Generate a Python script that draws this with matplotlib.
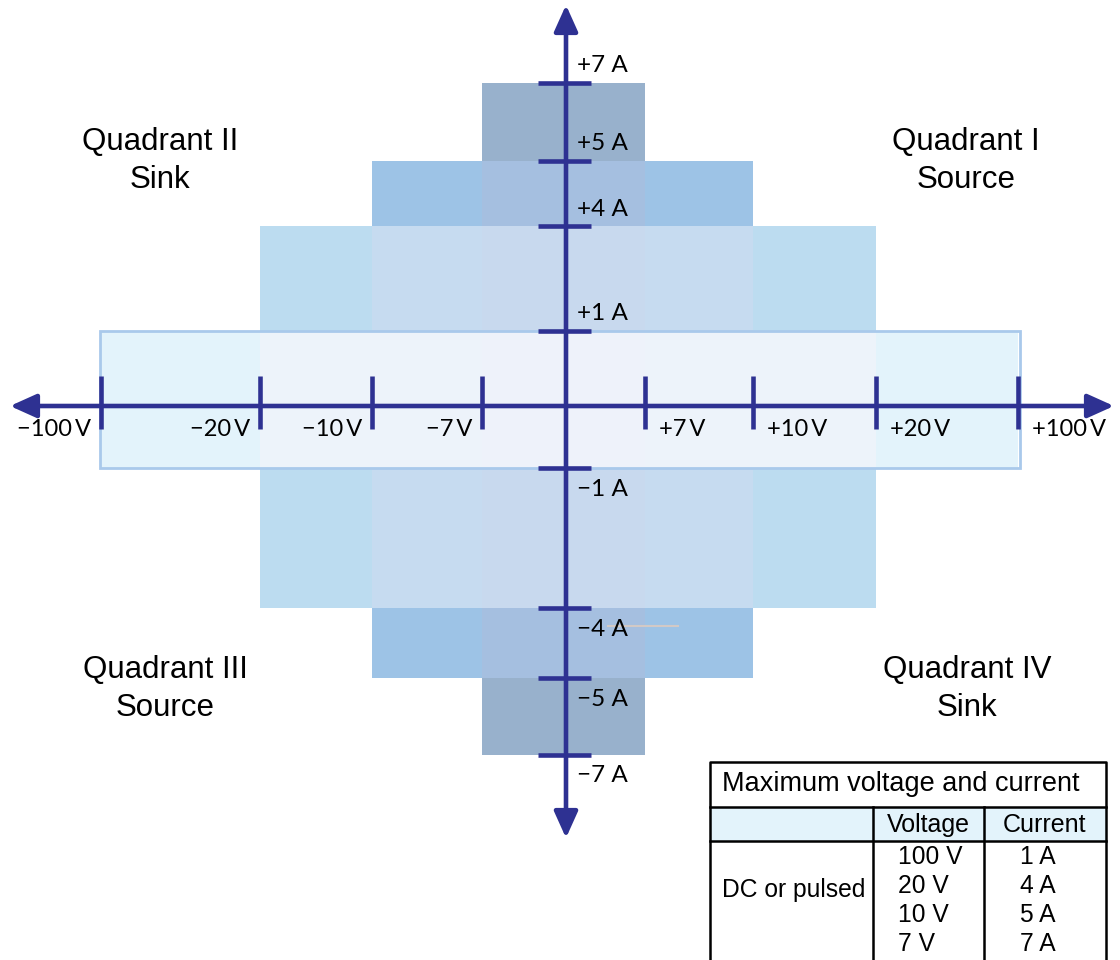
import numpy as np
import matplotlib.pyplot as plt
from matplotlib.patches import Rectangle

# ---- data ----
volt_limits = [100, 20, 10, 7]          # V, max voltage of each range
curr_limits = [1, 4, 5, 7]              # A, max current of each range
volt_ticks = [-100, -20, -10, -7, 7, 10, 20, 100]
curr_ticks = [7, 5, 4, 1, -1, -4, -5, -7]
quad_labels = ['Quadrant I\nSource', 'Quadrant II\nSink',
               'Quadrant III\nSource', 'Quadrant IV\nSink']
table_title = 'Maximum voltage and current'
table_head = ['Voltage', 'Current']
table_row = 'DC or pulsed'
table_volt = ['100 V', '20 V', '10 V', '7 V']
table_curr = ['1 A', '4 A', '5 A', '7 A']

# ---- layout: schematic (not linear) scale, pixel position of each level ----
X0, Y0 = 566, 406
xpos = {-100: 101, -20: 260, -10: 372, -7: 482, 0: X0,
        7: 645, 10: 753, 20: 876, 100: 1018}
ypos = {7: 83, 5: 161, 4: 226, 1: 331, 0: Y0,
        -1: 468, -4: 608, -5: 678, -7: 755}

fill = {100: '#e3f3fb', 20: '#bcdcf0', 10: '#9dc3e6', 7: '#98b1cc'}
overlap = {(10, 7): '#a5bfe0', (20, 10): '#c6dbf0', (20, 7): '#c8d9ee',
           (100, 20): '#edf3fa', (100, 10): '#edf3fa', (100, 7): '#eef2fa'}
axcol = '#2e3192'
tickfont = ['Lato', 'DejaVu Sans']
textfont = ['Liberation Sans', 'DejaVu Sans']

fig = plt.figure(figsize=(11.2, 9.6), dpi=100)
ax = fig.add_axes([0, 0, 1, 1])
ax.set_xlim(0, 1120)
ax.set_ylim(960, 0)
ax.axis('off')

lim = dict(zip(volt_limits, curr_limits))


def box(v, i, color, z, **kw):
    x1, x2 = xpos[-v], xpos[v]
    y1, y2 = ypos[i], ypos[-i]
    ax.add_patch(Rectangle((x1, y1), x2 - x1, y2 - y1, facecolor=color,
                           edgecolor='none', zorder=z, **kw))


# single ranges
for v in [20, 10, 7]:
    box(v, lim[v], fill[v], 1)
# overlaps: x range of the lower voltage, y range of the lower current
for (va, vb) in [(10, 7), (20, 10), (20, 7)]:
    box(vb, lim[va], overlap[(va, vb)], 2)
box(100, lim[100], fill[100], 3)
for (va, vb) in [(100, 20), (100, 10), (100, 7)]:
    box(vb, lim[va], overlap[(va, vb)], 4)
# outline of the 100 V range
ax.add_patch(Rectangle((xpos[-100] - 1, ypos[1]), xpos[100] - xpos[-100] + 3,
                       ypos[-1] - ypos[1], facecolor='none',
                       edgecolor='#a9c9eb', lw=2, zorder=5))

# stray grey mark seen near -4 A
ax.plot([608, 678], [626, 626], color='#d2c9c6', lw=1.5, zorder=5)

# axes with arrows
arrow = dict(arrowstyle='<|-|>,head_length=0.8,head_width=0.36',
             mutation_scale=20, lw=3.3, color=axcol, shrinkA=0, shrinkB=0)
ax.annotate('', xy=(10, Y0), xytext=(1114, Y0), arrowprops=arrow, zorder=6)
ax.annotate('', xy=(X0, 5), xytext=(X0, 838), arrowprops=arrow, zorder=6)

ax.vlines([xpos[v] for v in volt_ticks], Y0 - 30, Y0 + 23,
          color=axcol, lw=3.3, zorder=6)
ax.hlines([ypos[i] for i in curr_ticks], X0 - 28, X0 + 25,
          color=axcol, lw=3.3, zorder=6)

for v in volt_ticks:
    s = ('+' if v > 0 else '\u2212') + f'{abs(v)}\u2009V'
    if v < 0:
        ax.text(xpos[v] - 10, Y0 + 24, s, ha='right', va='center',
                fontsize=17, family=tickfont, zorder=7)
    else:
        ax.text(xpos[v] + 14, Y0 + 24, s, ha='left', va='center',
                fontsize=17, family=tickfont, zorder=7)

for i in curr_ticks:
    s = ('+' if i > 0 else '\u2212') + f'{abs(i)} A'
    dy = -17 if i > 0 else 21
    ax.text(X0 + 11, ypos[i] + dy, s, ha='left', va='center',
            fontsize=17.5, family=tickfont, zorder=7)

# quadrant labels
qpos = [(966, 161), (160, 161), (165, 689), (967, 689)]
for (qx, qy), s in zip(qpos, quad_labels):
    ax.text(qx, qy, s, ha='center', va='center', fontsize=22.5,
            family=textfont, linespacing=1.32)

# table
tx1, tx2, tc1, tc2 = 710, 1106, 873, 984
ty1, ty2, ty3, ty4 = 762, 807, 841, 962
ax.add_patch(Rectangle((tx1, ty2), tx2 - tx1, ty3 - ty2,
                       facecolor='#e3f3fb', edgecolor='none', zorder=8))
tl = dict(color='black', lw=1.8, zorder=9)
ax.plot([tx1, tx2, tx2, tx1, tx1], [ty4, ty4, ty1, ty1, ty4], **tl)
ax.plot([tx1, tx2], [ty2, ty2], **tl)
ax.plot([tx1, tx2], [ty3, ty3], **tl)
ax.plot([tc1, tc1], [ty2, ty4], **tl)
ax.plot([tc2, tc2], [ty2, ty4], **tl)

tf = dict(family=textfont, zorder=10, va='center')
ax.text(722, 784, table_title, fontsize=19.5, ha='left', **tf)
ax.text((tc1 + tc2) / 2, 825, table_head[0], fontsize=18, ha='center', **tf)
ax.text((tc2 + tx2) / 2, 825, table_head[1], fontsize=18, ha='center', **tf)
ax.text(722, 890, table_row, fontsize=17.7, ha='left', **tf)
rows_y = [857, 886, 915, 944]
for y, sv, sc in zip(rows_y, table_volt, table_curr):
    ax.text(898, y, sv, fontsize=17.7, ha='left', **tf)
    ax.text(1038, y, sc, fontsize=17.7, ha='center', **tf)

fig.savefig('out.png', dpi=100)
